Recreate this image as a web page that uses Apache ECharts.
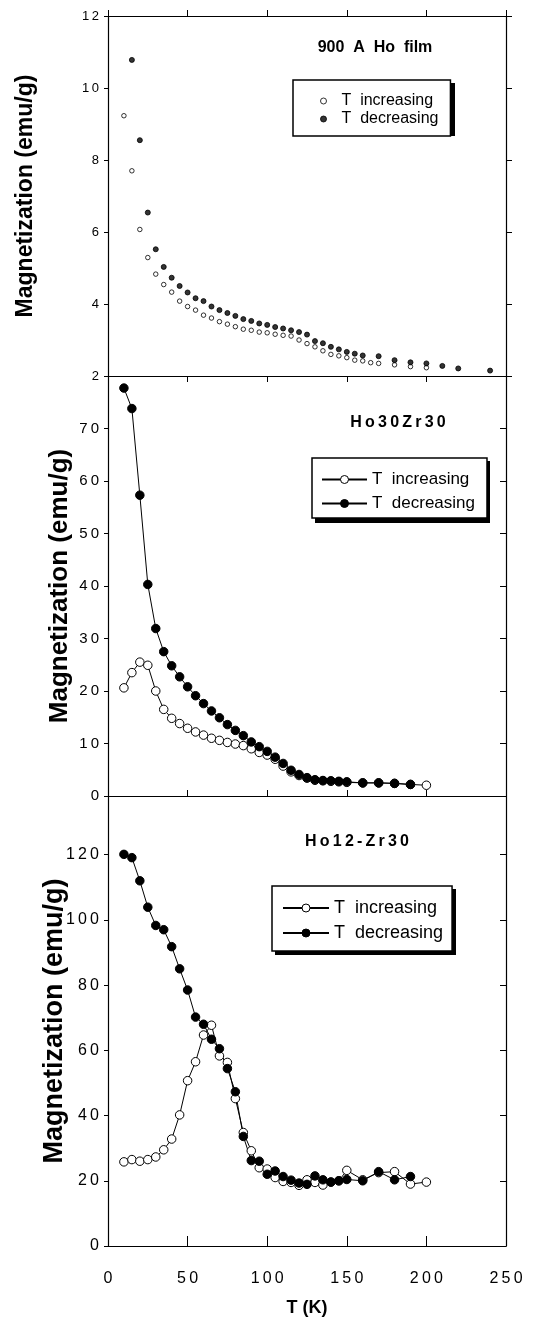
<!DOCTYPE html>
<html><head><meta charset="utf-8">
<script src="https://cdn.jsdelivr.net/npm/echarts@6/dist/echarts.min.js"></script>
<style>html,body{margin:0;padding:0;background:#fff}#c{width:550px;height:1325px}</style>
</head><body><div id="c"></div>
<script>
// ---------- DATA ----------
// Panel 1: 900 A Ho film
const filmIncT = [10,15,20,25,30,35,40,45,50,55,60,65,70,75,80,85,90,95,100,105,110,115,120,125,130,135,140,145,150,155,160,165,170,180,190,200];
const filmIncM = [9.23,7.70,6.07,5.29,4.83,4.54,4.33,4.08,3.93,3.83,3.69,3.61,3.51,3.44,3.37,3.30,3.27,3.22,3.20,3.16,3.13,3.11,3.00,2.90,2.81,2.70,2.60,2.56,2.51,2.44,2.42,2.37,2.35,2.31,2.26,2.23];
const filmDecT = [15,20,25,30,35,40,45,50,55,60,65,70,75,80,85,90,95,100,105,110,115,120,125,130,135,140,145,150,155,160,170,180,190,200,210,220,240];
const filmDecM = [10.78,8.55,6.54,5.52,5.03,4.73,4.50,4.32,4.16,4.08,3.93,3.83,3.75,3.67,3.58,3.53,3.46,3.42,3.36,3.32,3.27,3.22,3.15,2.97,2.91,2.81,2.74,2.67,2.62,2.57,2.55,2.44,2.38,2.35,2.28,2.21,2.15];
// Panel 2: Ho30Zr30
const h30IncT = [10,15,20,25,30,35,40,45,50,55,60,65,70,75,80,85,90,95,100,105,110,115,120,125,130,135,140,145,150,160,170,180,190,200];
const h30IncM = [20.6,23.5,25.5,24.9,20.0,16.5,14.8,13.8,12.9,12.2,11.6,11.0,10.6,10.2,9.9,9.6,9.0,8.3,7.8,7.0,5.7,4.6,3.9,3.4,3.0,2.9,2.8,2.7,2.6,2.5,2.5,2.4,2.2,2.05];
const h30DecT = [10,15,20,25,30,35,40,45,50,55,60,65,70,75,80,85,90,95,100,105,110,115,120,125,130,135,140,145,150,160,170,180,190];
const h30DecM = [77.7,73.8,57.3,40.3,31.9,27.5,24.8,22.7,20.8,19.1,17.6,16.2,14.9,13.6,12.5,11.5,10.3,9.4,8.5,7.4,6.2,4.9,4.1,3.5,3.1,2.95,2.9,2.8,2.7,2.5,2.5,2.4,2.2];
// Panel 3: Ho12-Zr30
const h12IncT = [10,15,20,25,30,35,40,45,50,55,60,65,70,75,80,85,90,95,100,105,110,115,120,125,130,135,140,145,150,160,170,180,190,200];
const h12IncM = [25.8,26.5,26.0,26.5,27.3,29.5,32.8,40.2,50.7,56.5,64.7,67.7,58.3,56.3,45.2,34.8,29.2,24.0,23.6,21.0,19.8,19.5,18.6,20.3,19.5,18.7,19.6,20.0,23.2,20.3,22.5,22.8,19.0,19.6];
const h12DecT = [10,15,20,25,30,35,40,45,50,55,60,65,70,75,80,85,90,95,100,105,110,115,120,125,130,135,140,145,150,160,170,180,190];
const h12DecM = [120.1,119.1,112.0,103.9,98.3,97.0,91.8,85.0,78.5,70.2,68.0,63.4,60.5,54.4,47.3,33.6,26.2,26.0,22.0,23.0,21.3,20.2,19.3,18.9,21.5,20.3,19.6,20.0,20.4,20.0,22.8,20.3,21.3];

const panelTitles = ['900  A  Ho  film', 'Ho30Zr30', 'Ho12-Zr30'];
const legendLabels = ['T  increasing', 'T  decreasing'];
const yName = 'Magnetization (emu/g)';
const xName = 'T (K)';
const xRange = {min: 0, max: 250, interval: 50};
const yRanges = [{min: 2, max: 12, interval: 2}, {min: 0, max: 80, interval: 10}, {min: 0, max: 138, interval: 20}];

// ---------- CHART ----------
const FF = '"Liberation Sans", Arial, sans-serif';
const sp = v => String(v).split('').join('\u2009');
const pairs = (t, m) => t.map((x, i) => [x, m[i]]);

const grids = [
  {left: 108, right: 44, top: 16, height: 360},
  {left: 108, right: 44, top: 376, height: 420},
  {left: 108, right: 44, top: 796, height: 450}
];
const axLine = {show: true, onZero: false, lineStyle: {color: '#000', width: 1.2}};
const xAxes = [], yAxes = [];
const yLabelSize = [13, 15, 16];
const yNameSize = [23, 26, 27];
const yNameGap = [71, 35, 40];
for (let g = 0; g < 3; g++) {
  xAxes.push(Object.assign({type: 'value', gridIndex: g, position: 'bottom', axisLine: axLine,
    axisTick: {show: g !== 0, inside: true, length: g === 2 ? 10 : 6, lineStyle: {color: '#000'}},
    axisLabel: {show: g === 2, margin: 25, fontSize: 16, color: '#000', fontFamily: FF, formatter: sp},
    splitLine: {show: false},
    name: g === 2 ? xName : '', nameLocation: 'middle', nameGap: 53, nameMoveOverlap: false,
    nameTextStyle: {fontSize: 18, fontWeight: 'bold', color: '#000', fontFamily: FF}}, xRange));
  xAxes.push(Object.assign({type: 'value', gridIndex: g, position: 'top', axisLine: axLine,
    axisTick: {show: true, inside: g === 1, length: 6, lineStyle: {color: '#000'}},
    axisLabel: {show: false}, splitLine: {show: false}}, xRange));
  yAxes.push(Object.assign({type: 'value', gridIndex: g, position: 'left', axisLine: axLine,
    axisTick: {show: true, inside: false, length: 4, lineStyle: {color: '#000'}},
    axisLabel: {show: true, margin: 9, fontSize: yLabelSize[g], color: '#000', fontFamily: FF, formatter: sp,
      showMaxLabel: g === 0, showMinLabel: true},
    splitLine: {show: false},
    name: yName, nameLocation: 'middle', nameGap: yNameGap[g], nameMoveOverlap: false,
    nameTextStyle: {fontSize: yNameSize[g], fontWeight: 'bold', color: '#000', fontFamily: FF}}, yRanges[g]));
  yAxes.push(Object.assign({type: 'value', gridIndex: g, position: 'right', axisLine: axLine,
    axisTick: {show: true, inside: g !== 0, length: 6, lineStyle: {color: '#000'}},
    axisLabel: {show: false}, splitLine: {show: false}}, yRanges[g]));
}

const openStyle = {color: '#fff', borderColor: '#000', borderWidth: 1};
const fillStyle = {color: '#000', borderColor: '#000', borderWidth: 1};
const names = [['film inc', 'film dec'], ['h30 inc', 'h30 dec'], ['h12 inc', 'h12 dec']];
const nameMap = {};
names.forEach(p => { nameMap[p[0]] = legendLabels[0]; nameMap[p[1]] = legendLabels[1]; });

const series = [
  {type: 'scatter', name: names[0][0], xAxisIndex: 0, yAxisIndex: 0, data: pairs(filmIncT, filmIncM),
   symbol: 'circle', symbolSize: 4.5, itemStyle: openStyle},
  {type: 'scatter', name: names[0][1], xAxisIndex: 0, yAxisIndex: 0, data: pairs(filmDecT, filmDecM),
   symbol: 'circle', symbolSize: 5, itemStyle: fillStyle},
];
const lineData = [[h30IncT, h30IncM, h30DecT, h30DecM], [h12IncT, h12IncM, h12DecT, h12DecM]];
lineData.forEach((d, k) => {
  const g = k + 1;
  series.push({type: 'line', name: names[g][0], xAxisIndex: 2 * g, yAxisIndex: 2 * g, data: pairs(d[0], d[1]),
    symbol: 'circle', symbolSize: 8.5, showAllSymbol: true, itemStyle: openStyle,
    lineStyle: {color: '#000', width: 1}});
  series.push({type: 'line', name: names[g][1], xAxisIndex: 2 * g, yAxisIndex: 2 * g, data: pairs(d[2], d[3]),
    symbol: 'circle', symbolSize: 8.5, showAllSymbol: true, itemStyle: fillStyle,
    lineStyle: {color: '#000', width: 1}});
});

// legend boxes: [left, top, width, height] (for the drop shadow drawn behind them)
const legendBoxes = [[293, 80, 159, 53], [312, 458, 175, 62], [272, 886, 181, 66]];
const legendBase = {orient: 'vertical', selectedMode: false, backgroundColor: '#fff', z: 10,
  borderColor: '#000', borderWidth: 1.5, formatter: n => nameMap[n], itemStyle: {borderWidth: 1}};
const legends = [
  Object.assign({}, legendBase, {data: names[0], left: 293, top: 80, itemWidth: 26, itemHeight: 6, itemGap: 2,
    padding: [13, 12, 9, 27], textStyle: {fontSize: 16, color: '#000', fontFamily: FF}}),
  Object.assign({}, legendBase, {data: names[1], left: 312, top: 458, itemWidth: 45, itemHeight: 10, itemGap: 7,
    padding: [13, 12, 6, 9], textStyle: {fontSize: 17, color: '#000', fontFamily: FF}}),
  Object.assign({}, legendBase, {data: names[2], left: 272, top: 886, itemWidth: 46, itemHeight: 10, itemGap: 7,
    padding: [13, 9, 9, 10], textStyle: {fontSize: 18, color: '#000', fontFamily: FF}})
];

const titlePos = [[375, 48, 16], [398, 423, 16], [357, 842, 16]];
const graphics = legendBoxes.map(b => ({type: 'rect', z: 0,
  shape: {x: b[0] + 3, y: b[1] + 3, width: b[2], height: b[3]}, style: {fill: '#000'}}))
  .concat(panelTitles.map((t, i) => ({type: 'text', x: titlePos[i][0], y: titlePos[i][1],
  style: {text: i === 0 ? t : sp(t), fill: '#000', font: 'bold ' + titlePos[i][2] + 'px ' + FF, align: 'center', verticalAlign: 'middle'}})));

const chart = echarts.init(document.getElementById('c'), null, {renderer: 'canvas'});
chart.setOption({
  animation: false,
  backgroundColor: '#fff',
  textStyle: {fontFamily: FF},
  grid: grids,
  xAxis: xAxes,
  yAxis: yAxes,
  legend: legends,
  graphic: {elements: graphics, z: 1},
  series: series
});
</script>
</body></html>
